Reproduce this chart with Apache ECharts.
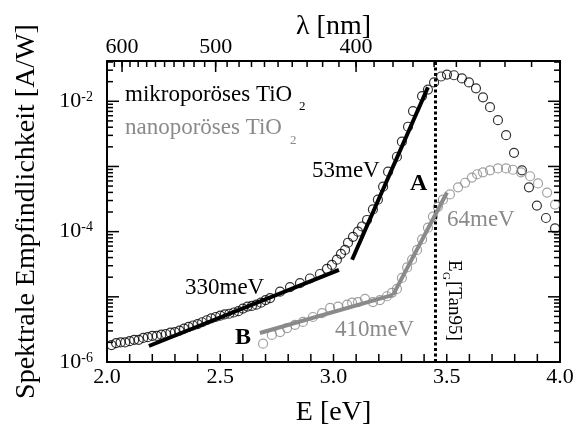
<!DOCTYPE html>
<html>
<head>
<meta charset="utf-8">
<script src="https://cdn.jsdelivr.net/npm/echarts@6/dist/echarts.min.js"></script>
<style>
html, body { margin: 0; background: #fff; }
#chart { width: 586px; height: 430px; }
</style>
</head>
<body>
<div id="chart"></div>
<script>
// mikroporöses TiO2 (schwarz)
var microE = [2.02, 2.04, 2.06, 2.08, 2.10, 2.12, 2.14, 2.16, 2.18, 2.20,
    2.22, 2.24, 2.26, 2.28, 2.30, 2.32, 2.34, 2.36, 2.38, 2.40,
    2.42, 2.44, 2.46, 2.48, 2.50, 2.52, 2.54, 2.56, 2.58, 2.60,
    2.62, 2.64, 2.66, 2.68, 2.70, 2.72, 2.764, 2.808, 2.852, 2.896,
    2.94, 2.971, 2.993, 3.015, 3.033, 3.051, 3.064, 3.086, 3.108, 3.126,
    3.148, 3.174, 3.196, 3.219, 3.241, 3.28, 3.302, 3.329, 3.351, 3.391,
    3.417, 3.444, 3.475, 3.501, 3.532, 3.567, 3.598, 3.629, 3.66, 3.691,
    3.726, 3.762, 3.797, 3.832, 3.863, 3.898, 3.938, 3.978];
var microVal = [1.82e-6, 1.95e-6, 2.00e-6, 2.00e-6, 2.09e-6, 2.19e-6, 2.19e-6, 2.34e-6, 2.40e-6, 2.51e-6,
    2.51e-6, 2.63e-6, 2.69e-6, 2.82e-6, 2.88e-6, 3.02e-6, 3.24e-6, 3.47e-6, 3.63e-6, 3.80e-6,
    4.07e-6, 4.37e-6, 4.68e-6, 4.90e-6, 5.13e-6, 5.37e-6, 5.50e-6, 5.75e-6, 6.03e-6, 6.61e-6,
    7.08e-6, 7.24e-6, 7.59e-6, 8.13e-6, 8.91e-6, 9.55e-6, 1.20e-5, 1.41e-5, 1.62e-5, 1.91e-5,
    2.24e-5, 2.69e-5, 3.09e-5, 3.72e-5, 4.57e-5, 5.25e-5, 6.76e-5, 8.32e-5, 1.00e-4, 1.20e-4,
    1.51e-4, 2.19e-4, 3.09e-4, 4.90e-4, 8.32e-4, 1.41e-3, 2.40e-3, 4.07e-3, 7.08e-3, 1.20e-2,
    1.51e-2, 1.95e-2, 2.40e-2, 2.57e-2, 2.51e-2, 2.24e-2, 1.95e-2, 1.58e-2, 1.15e-2, 8.13e-3,
    5.13e-3, 3.02e-3, 1.62e-3, 8.71e-4, 4.79e-4, 2.51e-4, 1.62e-4, 1.12e-4];

// nanoporöses TiO2 (grau)
var nanoE = [2.689, 2.728, 2.764, 2.795, 2.83, 2.865, 2.909, 2.949, 2.985, 3.02,
    3.06, 3.082, 3.108, 3.139, 3.174, 3.205, 3.236, 3.258, 3.28, 3.302,
    3.325, 3.347, 3.369, 3.391, 3.417, 3.439, 3.461, 3.483, 3.514, 3.55,
    3.581, 3.611, 3.634, 3.66, 3.691, 3.726, 3.762, 3.792, 3.828, 3.868,
    3.903, 3.943, 3.978];
var nanoVal = [1.91e-6, 2.60e-6, 2.88e-6, 3.31e-6, 3.72e-6, 4.12e-6, 4.90e-6, 5.62e-6, 6.76e-6, 7.08e-6,
    7.59e-6, 8.13e-6, 8.32e-6, 9.33e-6, 8.32e-6, 8.91e-6, 1.02e-5, 1.15e-5, 1.32e-5, 1.95e-5,
    2.82e-5, 3.72e-5, 5.25e-5, 7.59e-5, 1.15e-4, 1.70e-4, 2.40e-4, 3.09e-4, 3.72e-4, 4.79e-4,
    5.62e-4, 6.76e-4, 7.59e-4, 8.13e-4, 8.71e-4, 9.33e-4, 9.33e-4, 8.91e-4, 8.13e-4, 7.08e-4,
    5.50e-4, 3.98e-4, 2.60e-4];

// Geraden (Urbach-Fits)
var fit330E = [2.185, 3.024], fit330Val = [1.76e-6, 2.60e-5];
var fit53E = [3.082, 3.417], fit53Val = [3.71e-5, 1.64e-2];
var fit410E = [2.675, 3.263], fit410Val = [2.79e-6, 1.07e-5];
var fit64E = [3.263, 3.501], fit64Val = [1.07e-5, 3.98e-4];

var eGap = 3.448;           // E_G [Tan95]
var xTicks = [2.0, 2.1, 2.2, 2.3, 2.4, 2.5, 2.6, 2.7, 2.8, 2.9, 3.0,
    3.1, 3.2, 3.3, 3.4, 3.5, 3.6, 3.7, 3.8, 3.9, 4.0];
var yMajor = [1e-6, 1e-5, 1e-4, 1e-3, 1e-2];
var yLabels = [1e-6, 1e-4, 1e-2];
var lambdaLabels = [600, 500, 400];
var lambdaMinor = [620, 610, 600, 590, 580, 570, 560, 550, 540, 530, 520, 510, 500,
    490, 480, 470, 460, 450, 440, 430, 420, 410, 400, 390, 380, 370, 360, 350, 340, 330, 320, 310];

var HC = 1239.84;
var font = 'Liberation Serif';
var gray = '#8a8a8a';
var xMin = 2, xMax = 4;
var yMin = 1e-6, yMax = 0.0415;

function pairs(xs, ys) {
    var out = [];
    for (var i = 0; i < xs.length; i++) out.push([xs[i], ys[i]]);
    return out;
}
function toE(list) {
    return list.map(function (l) { return HC / l; });
}
var yMinor = [];
for (var n = -6; n <= -2; n++) {
    for (var k = 2; k <= 9; k++) {
        var v = k * Math.pow(10, n);
        if (v < yMax) yMinor.push(v);
    }
}

// Ticks nach innen: [x, y, Länge, Seite]  Seite: 0 links, 1 rechts, 2 unten, 3 oben
var ticks = [];
yMajor.forEach(function (v) { ticks.push([xMin, v, 12, 0], [xMax, v, 12, 1]); });
yMinor.forEach(function (v) { ticks.push([xMin, v, 6, 0], [xMax, v, 6, 1]); });
xTicks.forEach(function (e) { ticks.push([e, 1e-3, 8, 2]); });
toE(lambdaMinor).forEach(function (e) { ticks.push([e, 1e-3, 6, 3]); });
toE(lambdaLabels).forEach(function (e) { ticks.push([e, 1e-3, 11, 3]); });

var axisLine = {show: true, onZero: false, lineStyle: {color: '#000', width: 2}};
var nameStyle = {fontFamily: font, fontSize: 28, color: '#000'};

function line(xs, ys, color) {
    return {
        type: 'line', data: pairs(xs, ys), showSymbol: false, symbol: 'none',
        lineStyle: {color: color, width: 4}, silent: true, z: 5
    };
}
function scatter(xs, ys, color, extra) {
    var s = {
        type: 'scatter', data: pairs(xs, ys), symbol: 'circle', symbolSize: 9,
        itemStyle: {color: 'rgba(0,0,0,0)', borderColor: color, borderWidth: 1.2},
        silent: true, z: 3
    };
    if (extra) s.markLine = extra;
    return s;
}
function txt(x, y, text, color, size, bold) {
    return {
        type: 'text', x: x, y: y, silent: true,
        style: {
            text: text, fill: color, align: 'left', verticalAlign: 'middle',
            font: (bold ? 'bold ' : '') + size + 'px ' + font
        }
    };
}

var chart = echarts.init(document.getElementById('chart'));
chart.setOption({
    animation: false,
    grid: {left: 107, top: 61, width: 453, height: 301, containLabel: false, outerBoundsMode: 'none'},
    xAxis: [
        {
            type: 'value', position: 'bottom', min: xMin, max: xMax, interval: 0.1,
            axisLine: axisLine,
            axisTick: {show: false},
            axisLabel: {
                margin: 4, color: '#000', fontFamily: font, fontSize: 22,
                formatter: function (v) { return Math.round(v * 10) % 5 === 0 ? v.toFixed(1) : ''; }
            },
            splitLine: {show: false},
            name: 'E [eV]', nameLocation: 'middle', nameGap: 37, nameMoveOverlap: false,
            nameTextStyle: nameStyle
        },
        {
            type: 'value', position: 'top', min: xMin, max: xMax,
            axisLine: axisLine,
            axisTick: {show: false},
            axisLabel: {
                customValues: toE(lambdaLabels), margin: 3, color: '#000', fontFamily: font, fontSize: 22,
                formatter: function (v) { return Math.round(HC / v); }
            },
            splitLine: {show: false},
            name: 'λ [nm]', nameLocation: 'middle', nameGap: 20, nameMoveOverlap: false,
            nameTextStyle: nameStyle
        }
    ],
    yAxis: [
        {
            type: 'log', logBase: 10, min: yMin, max: yMax, position: 'left',
            axisLine: axisLine,
            axisTick: {show: false},
            axisLabel: {
                show: true, customValues: yLabels, margin: 14,
                formatter: function (v) { return '{b|10}{s|' + Math.round(Math.log10(v)) + '}'; },
                rich: {
                    b: {fontFamily: font, fontSize: 22, lineHeight: 22, color: '#000', verticalAlign: 'bottom'},
                    s: {fontFamily: font, fontSize: 14, lineHeight: 14, color: '#000', verticalAlign: 'top', padding: [0, 0, 12, 0]}
                }
            },
            splitLine: {show: false},
            name: 'Spektrale Empfindlichkeit [A/W]', nameLocation: 'middle', nameRotate: 90, nameGap: 66,
            nameTextStyle: nameStyle
        },
        {
            type: 'log', logBase: 10, min: yMin, max: yMax, position: 'right',
            axisLine: axisLine,
            axisTick: {show: false},
            axisLabel: {show: false},
            splitLine: {show: false}
        }
    ],
    series: [
        {
            // Ticks: Lage über die Achsen-Skala, Kante vom Koordinatensystem
            type: 'custom', data: ticks, silent: true, clip: false, z: 10,
            renderItem: function (params, api) {
                var cs = params.coordSys;
                var p = api.coord([api.value(0), api.value(1)]);
                var len = api.value(2), side = api.value(3);
                var s;
                if (side === 0) s = {x1: cs.x, y1: p[1], x2: cs.x + len, y2: p[1]};
                else if (side === 1) s = {x1: cs.x + cs.width, y1: p[1], x2: cs.x + cs.width - len, y2: p[1]};
                else if (side === 2) s = {x1: p[0], y1: cs.y + cs.height, x2: p[0], y2: cs.y + cs.height - len};
                else s = {x1: p[0], y1: cs.y, x2: p[0], y2: cs.y + len};
                return {type: 'line', shape: s, style: {stroke: '#000', lineWidth: 1.5}};
            }
        },
        scatter(microE, microVal, '#000', {
            silent: true, symbol: ['none', 'none'], label: {show: false},
            lineStyle: {color: '#000', width: 3, type: [3, 2.5]},
            data: [{xAxis: eGap}]
        }),
        scatter(nanoE, nanoVal, gray),
        line(fit330E, fit330Val, '#000'),
        line(fit53E, fit53Val, '#000'),
        line(fit410E, fit410Val, gray),
        line(fit64E, fit64Val, gray)
    ],
    graphic: [
        txt(125, 95, 'mikroporöses TiO', '#000', 23),
        txt(299, 107, '2', '#000', 13),
        txt(125, 128, 'nanoporöses TiO', gray, 23),
        txt(290, 141, '2', gray, 13),
        txt(312, 171, '53meV', '#000', 23),
        txt(410, 184, 'A', '#000', 24, true),
        txt(185, 288, '330meV', '#000', 23),
        txt(235, 338, 'B', '#000', 24, true),
        txt(335, 330, '410meV', gray, 23),
        txt(447, 220, '64meV', gray, 23),
        {
            type: 'group', x: 454, y: 260, rotation: -Math.PI / 2,
            children: [
                txt(0, 0, 'E', '#000', 19),
                txt(12, 8, 'G', '#000', 11),
                txt(21, 0, '[Tan95]', '#000', 19)
            ]
        }
    ]
});
</script>
</body>
</html>
